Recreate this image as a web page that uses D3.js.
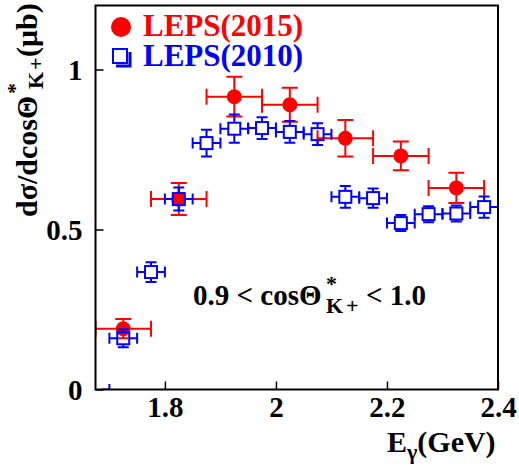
<!DOCTYPE html>
<html>
<head>
<meta charset="utf-8">
<script src="https://cdn.jsdelivr.net/npm/d3@7"></script>
<style>
  html, body { margin: 0; padding: 0; background: #fff; }
</style>
</head>
<body>
<svg id="chart" width="519" height="466"></svg>
<script>
// LEPS 2015 measurement: photon energy bin centres, cross sections and errors
const lepsNewE    = [1.725, 1.825, 1.925, 2.025, 2.125, 2.225, 2.325];
const lepsNewY    = [0.19, 0.595, 0.915, 0.89, 0.785, 0.73, 0.63];
const lepsNewErrY = [0.03, 0.05, 0.062, 0.053, 0.057, 0.045, 0.047];
const lepsNewErrE = 0.05;

// LEPS 2010 measurement
const lepsOldE    = [1.675, 1.725, 1.775, 1.825, 1.875, 1.925, 1.975, 2.025, 2.075, 2.125, 2.175, 2.225, 2.275, 2.325, 2.375];
const lepsOldY    = [0.0, 0.16, 0.367, 0.595, 0.77, 0.815, 0.817, 0.805, 0.798, 0.602, 0.598, 0.52, 0.548, 0.55, 0.57];
const lepsOldErrY = [0.0, 0.028, 0.031, 0.036, 0.042, 0.044, 0.034, 0.034, 0.034, 0.034, 0.03, 0.025, 0.025, 0.025, 0.033];
const lepsOldErrE = 0.025;

const xTicks = [1.8, 2.0, 2.2, 2.4];
const yTicks = [0, 0.5, 1];

const FONT = "'Liberation Serif', 'Times New Roman', Times, 'Nimbus Roman', 'DejaVu Serif', serif";

const svg = d3.select("#chart");
const plotL = 95.5, plotR = 498, plotT = 5.5, plotB = 389.5;

const x = d3.scaleLinear().domain([1.675, 2.4]).range([plotL, plotR]);
const y = d3.scaleLinear().domain([0, 1.2]).range([plotB, plotT]);

function serif(sel, size) {
  return sel.style("font-family", FONT).style("font-weight", "bold").style("font-size", size + "px");
}

svg.append("defs").append("clipPath").attr("id", "plotArea")
  .append("rect").attr("x", plotL).attr("y", plotT)
  .attr("width", plotR - plotL).attr("height", plotB - plotT);

// axes with inward ticks
const xAxis = svg.append("g").attr("transform", `translate(0,${plotB})`)
  .call(d3.axisBottom(x).tickValues(xTicks).tickSize(-8).tickPadding(0)
    .tickFormat(d => d === 2 ? "2" : d3.format(".1f")(d)));
xAxis.select(".domain").remove();
xAxis.selectAll(".tick line").attr("stroke", "#000").attr("stroke-width", 1.5);
serif(xAxis.selectAll(".tick text"), 29).attr("fill", "#000").attr("y", 27).attr("dy", 0);

const yAxis = svg.append("g").attr("transform", `translate(${plotL},0)`)
  .call(d3.axisLeft(y).tickValues(yTicks).tickSize(-8).tickPadding(0)
    .tickFormat(d => String(d)));
yAxis.select(".domain").remove();
yAxis.selectAll(".tick line").attr("stroke", "#000").attr("stroke-width", 1.5);
serif(yAxis.selectAll(".tick text"), 29).attr("fill", "#000")
  .attr("x", -13).attr("dy", "0.34em").attr("text-anchor", "end");

// data layer
const plot = svg.append("g").attr("clip-path", "url(#plotArea)");

function errorBars(g, xs, ys, eys, ex, color, gap, cap) {
  xs.forEach((xv, i) => {
    const cx = x(xv), cy = y(ys[i]);
    const x0 = x(xv - ex), x1 = x(xv + ex);
    const yTop = y(ys[i] + eys[i]), yBot = y(ys[i] - eys[i]);
    const segs = [
      [cx - gap, cy, x0, cy], [cx + gap, cy, x1, cy],
      [x0, cy - cap, x0, cy + cap], [x1, cy - cap, x1, cy + cap]
    ];
    if (eys[i] > 0) {
      segs.push([cx, cy - gap, cx, Math.min(yTop, cy - gap)]);
      segs.push([cx, cy + gap, cx, Math.max(yBot, cy + gap)]);
      segs.push([cx - cap, yTop, cx + cap, yTop]);
      segs.push([cx - cap, yBot, cx + cap, yBot]);
    }
    g.append("g").selectAll("line").data(segs).join("line")
      .attr("x1", d => d[0]).attr("y1", d => d[1])
      .attr("x2", d => d[2]).attr("y2", d => d[3])
      .attr("stroke", color).attr("stroke-width", 2);
  });
}

const gNew = plot.append("g");
errorBars(gNew, lepsNewE, lepsNewY, lepsNewErrY, lepsNewErrE, "#ff0000", 7, 8);
gNew.selectAll("circle").data(lepsNewE).join("circle")
  .attr("cx", d => x(d)).attr("cy", (d, i) => y(lepsNewY[i]))
  .attr("r", 7.5).attr("fill", "#ff0000");

const gOld = plot.append("g");
const oldIdx = d3.range(lepsOldE.length).filter(i => lepsOldY[i] > 0);
errorBars(gOld, lepsOldE, lepsOldY, lepsOldErrY, lepsOldErrE, "#0000ff", 6, 5.5);
gOld.selectAll("rect").data(oldIdx).join("rect")
  .attr("x", i => x(lepsOldE[i]) - 6).attr("y", i => y(lepsOldY[i]) - 6)
  .attr("width", 12).attr("height", 12)
  .attr("fill", "none").attr("stroke", "#0000ff").attr("stroke-width", 2);

// frame
svg.append("rect").attr("x", plotL).attr("y", plotT)
  .attr("width", plotR - plotL).attr("height", plotB - plotT)
  .attr("fill", "none").attr("stroke", "#000").attr("stroke-width", 2);

// legend
const legend = svg.append("g");
legend.append("circle").attr("cx", 121).attr("cy", 27).attr("r", 10).attr("fill", "#ff0000");
serif(legend.append("text"), 31).attr("x", 143).attr("y", 36)
  .attr("fill", "#ff0000").text("LEPS(2015)");
legend.append("rect").attr("x", 113).attr("y", 49).attr("width", 14).attr("height", 14)
  .attr("fill", "none").attr("stroke", "#0000ff").attr("stroke-width", 2);
legend.append("polyline").attr("points", "116,66 130,66 130,52")
  .attr("fill", "none").attr("stroke", "#0000ff").attr("stroke-width", 3);
serif(legend.append("text"), 31).attr("x", 143).attr("y", 66)
  .attr("fill", "#0000ff").text("LEPS(2010)");

// angular range annotation
const ann = serif(svg.append("text"), 29).attr("y", 305).attr("fill", "#000");
ann.append("tspan").attr("x", 193).text("0.9 < cosΘ");
ann.append("tspan").attr("x", 326).attr("y", 291).style("font-size", "22px").text("*");
ann.append("tspan").attr("x", 326).attr("y", 313).style("font-size", "22px")
  .style("letter-spacing", "3px").text("K+");
ann.append("tspan").attr("x", 366).attr("y", 305).text("< 1.0");

// axis titles
const xt = serif(svg.append("text"), 30).attr("y", 452).attr("fill", "#000");
xt.append("tspan").attr("x", 387).text("E");
xt.append("tspan").style("font-size", "22px").attr("dy", 7).text("γ");
xt.append("tspan").attr("dy", -7).text("(GeV)");

const yt = serif(svg.append("text"), 30).attr("transform", "translate(37,217) rotate(-90)")
  .attr("fill", "#000");
yt.append("tspan").attr("x", 0).attr("y", 0).text("dσ/dcosΘ");
yt.append("tspan").attr("x", 123).attr("y", -15).style("font-size", "22px").text("*");
yt.append("tspan").attr("x", 128).attr("y", 6).style("font-size", "22px")
  .style("letter-spacing", "2px").text("K+");
yt.append("tspan").attr("x", 160).attr("y", 0).text("(μb)");
</script>
</body>
</html>
